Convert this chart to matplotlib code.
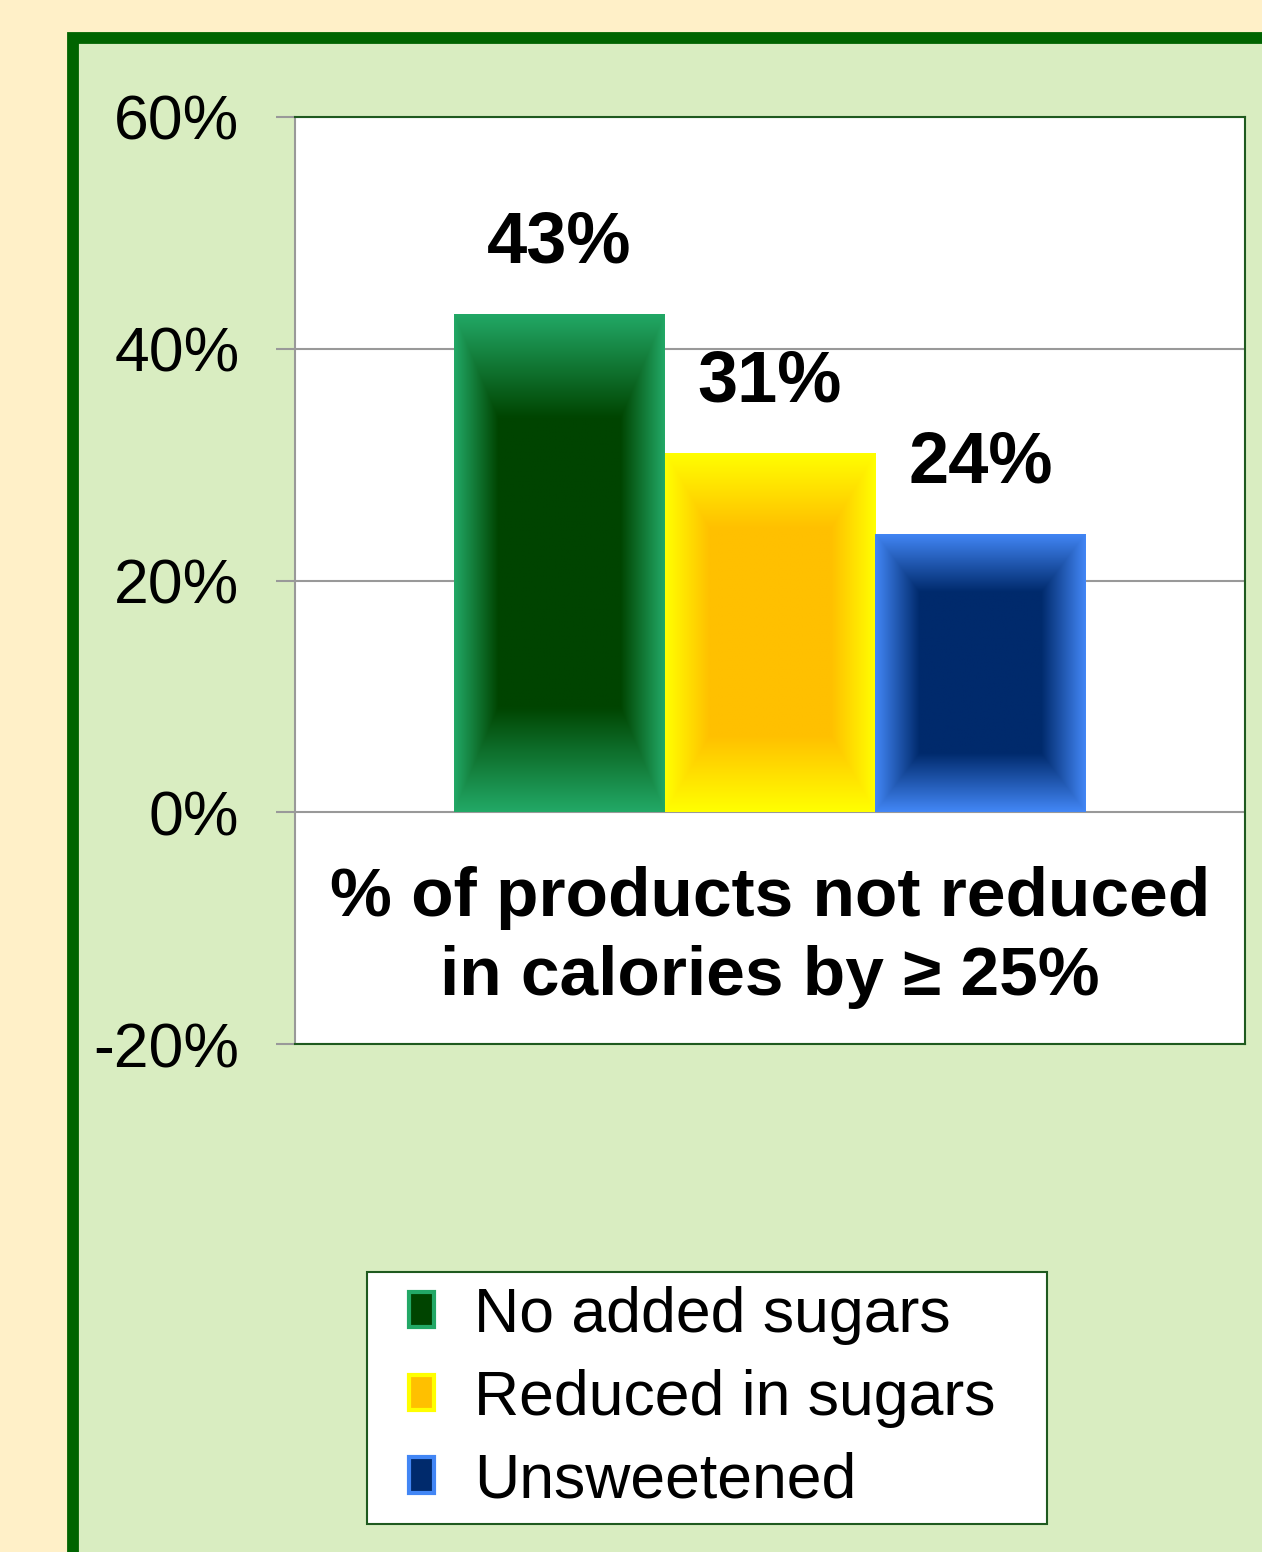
import numpy as np
import matplotlib
matplotlib.use("Agg")
import matplotlib.pyplot as plt
from matplotlib.patches import Patch, Rectangle
from matplotlib.legend_handler import HandlerPatch
from matplotlib.colors import to_rgb

plt.rcParams['font.family'] = ['Liberation Sans', 'DejaVu Sans']

# data
series = ['No added sugars', 'Reduced in sugars', 'Unsweetened']
values = [43, 31, 24]
category = '% of products not reduced\nin calories by \u2265 25%'
y_ticks = [-20, 0, 20, 40, 60]
y_tick_labels = ['-20%', '0%', '20%', '40%', '60%']

# bar colours: (outer edge, centre)
edge_colors = ['#22A866', '#FFFF00', '#4286F5']
center_colors = ['#004400', '#FFC000', '#002A6C']

fig = plt.figure(figsize=(12.62, 15.52), dpi=100)
fig.patch.set_facecolor('#FFF0C8')

# green panel behind the chart
panel = Rectangle((72.5 / 1262, -0.1), 1.2, (1 - 38 / 1552) + 0.1,
                  transform=fig.transFigure, facecolor='#D9EDC1',
                  edgecolor='#006400', linewidth=8.5, zorder=-5)
fig.patches.append(panel)

ax = fig.add_axes([295 / 1262, 1 - 1044 / 1552, 950 / 1262, 927 / 1552])
ax.set_facecolor('white')
ax.set_xlim(-0.5, 0.5)
ax.set_ylim(-20, 60)

width = 0.222
offsets = [-width, 0, width]
bars = ax.bar(offsets, values, width=width, color=center_colors, zorder=3)


# rectangular "from centre" gradient on each bar
def shade(bar, c_edge, c_mid, n=200):
    u = np.linspace(-1, 1, n)
    U, V = np.meshgrid(u, u)
    t = np.maximum(np.abs(U), np.abs(V))
    t = np.clip((t - 0.58) / 0.42, 0, 1)[..., None]
    img = np.array(to_rgb(c_mid)) * (1 - t) + np.array(to_rgb(c_edge)) * t
    x0, y0 = bar.get_x(), bar.get_y()
    im = ax.imshow(img, extent=[x0, x0 + bar.get_width(), y0, y0 + bar.get_height()],
                   aspect='auto', zorder=3.5, interpolation='bilinear')
    im.set_clip_path(bar)


for b, ce, cm in zip(bars, edge_colors, center_colors):
    shade(b, ce, cm)

ax.set_xlim(-0.5, 0.5)
ax.set_ylim(-20, 60)

for x, v in zip(offsets, values):
    ax.annotate(f'{v}%', xy=(x, v), xytext=(0, 37), textcoords='offset points',
                ha='center', va='baseline', fontsize=52, fontweight='bold', zorder=5)

ax.text(0, -10.8, category, ha='center', va='center', fontsize=50,
        fontweight='bold', linespacing=1.3, zorder=5)

ax.set_yticks(y_ticks)
ax.set_yticklabels(y_tick_labels)
ax.set_xticks([])
ax.tick_params(axis='y', labelsize=45, length=14, width=1.5, color='#999999', pad=26)
ax.yaxis.grid(True, color='#999999', linewidth=1.5, zorder=1)
ax.set_axisbelow(True)
for side in ['top', 'right', 'bottom']:
    ax.spines[side].set_color('#1F5A1F')
    ax.spines[side].set_linewidth(1.5)
ax.spines['left'].set_color('#999999')
ax.spines['left'].set_linewidth(1.5)


# small square legend keys, pushed to the right of their slot
def key_patch(legend, orig_handle, xdescent, ydescent, width, height, fontsize):
    w = 0.4 * fontsize
    return Rectangle((width - w - xdescent, -ydescent), w, height)


handles = [Patch(facecolor=cm, edgecolor=ce, linewidth=3) for ce, cm in zip(edge_colors, center_colors)]
leg = fig.legend(handles, series, loc='upper left',
                 bbox_to_anchor=(367 / 1262, 0, 680 / 1262, 1 - 1272 / 1552),
                 mode='expand', fontsize=45, frameon=True, fancybox=False,
                 handlelength=0.85, handleheight=0.5, handletextpad=0.65,
                 labelspacing=0.38, borderpad=0.22, borderaxespad=0,
                 handler_map={Patch: HandlerPatch(patch_func=key_patch)})
leg.get_frame().set_edgecolor('#1F5A1F')
leg.get_frame().set_linewidth(1.5)
leg.get_frame().set_facecolor('white')
leg.get_frame().set_alpha(1)

fig.savefig('out.png', dpi=100, facecolor=fig.get_facecolor())
